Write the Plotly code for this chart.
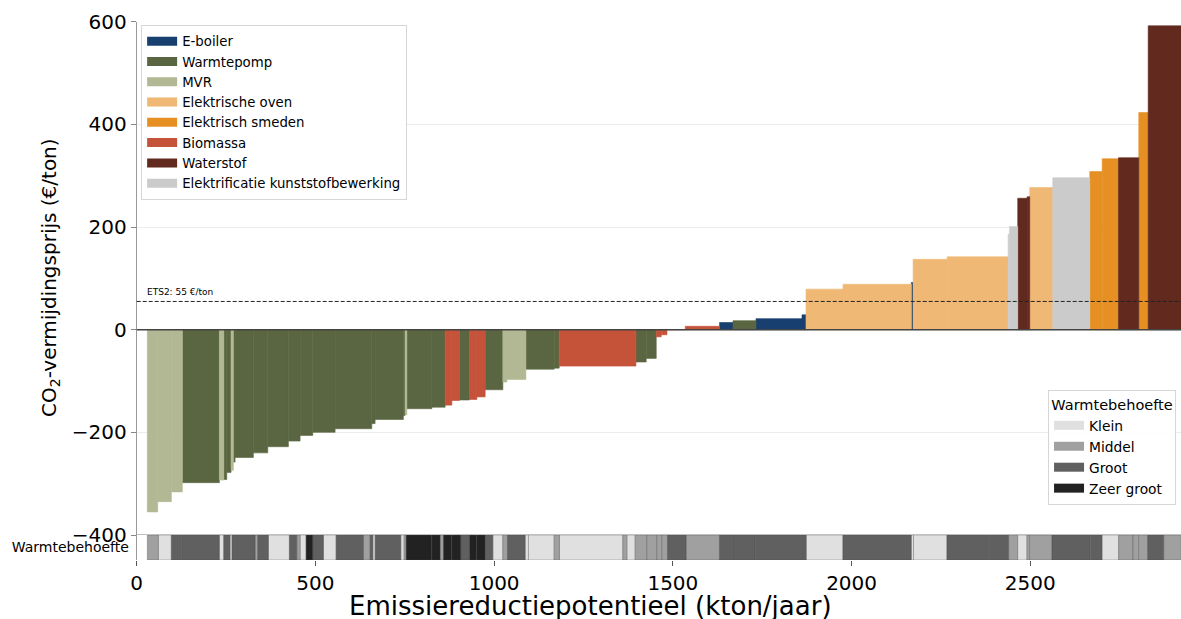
import numpy as np
import plotly.graph_objects as go

# ---------------- data ----------------
x_start = 29.7  # kton/jaar where the first measure starts

bar_tech = ["MVR", "MVR", "MVR", "WP", "MVR", "WP", "WP", "MVR", "WP", "WP",
            "WP", "WP", "WP", "WP", "WP", "WP", "WP", "WP", "WP", "MVR",
            "WP", "WP", "BIO", "BIO", "WP", "BIO", "BIO", "WP", "MVR", "MVR",
            "WP", "WP", "BIO", "WP", "WP", "BIO", "BIO", "BIO", "BIO", "EB",
            "WP", "EB", "EB", "OVEN", "OVEN", "EB", "OVEN", "OVEN", "KS", "KS",
            "H2", "H2", "OVEN", "KS", "SMED", "SMED", "H2", "SMED", "H2"]
bar_width = [29.1, 38.1, 30.8, 103.6, 12.3, 8.4, 12.0, 6.4, 4.8, 51.2,
             40.3, 57.7, 32.7, 35.5, 62.4, 102.7, 9.2, 79.2, 4.8, 4.8,
             70.0, 37.2, 18.8, 21.3, 28.0, 20.7, 23.2, 49.5, 11.2, 53.2,
             79.2, 14.0, 214.7, 28.8, 28.0, 14.0, 16.0, 51.2, 96.0, 37.5,
             64.4, 128.7, 11.2, 103.6, 191.2, 4.8, 95.2, 170.7, 3.6, 23.2,
             26.3, 7.3, 64.4, 103.6, 34.7, 45.6, 56.8, 26.3, 91.8]
bar_cost = [-355, -335, -316, -298, -293, -292, -278, -274, -258, -249,
            -240, -228, -217, -206, -200, -193, -183, -175, -167, -166,
            -154, -151, -147, -138, -137, -136, -131, -117, -102, -97,
            -77, -75, -71, -63, -56, -14, -10, 0, 6.5, 14,
            17.5, 21.5, 29, 79, 88.5, 92, 137, 142, 186, 201,
            256, 259, 277, 296, 308, 333, 335, 423, 592]

strip_class = ["M", "K", "G", "G", "K", "G", "K", "G", "M", "G",
               "K", "G", "M", "K", "Z", "G", "K", "G", "M", "G",
               "K", "G", "K", "M", "Z", "Z", "M", "Z", "Z", "G",
               "Z", "Z", "G", "K", "M", "G", "K", "K", "M", "K",
               "M", "K", "M", "M", "M", "M", "G", "M", "G", "G",
               "G", "G", "K", "G", "K", "K", "G", "G", "M", "K",
               "M", "M", "G", "G", "K", "M", "M", "M", "G", "M"]
strip_width = [30.8, 36.4, 29.1, 105.2, 12.3, 17.6, 5.6, 64.4, 7.6, 29.7,
               58.8, 20.7, 9.2, 16.8, 18.8, 29.7, 35.5, 76.4, 18.8, 7.6,
               6.4, 71.9, 9.2, 5.6, 71.9, 23.2, 9.2, 23.5, 25.2, 24.1,
               20.7, 23.2, 21.6, 28.0, 12.9, 49.5, 9.2, 71.9, 14.8, 177.4,
               11.2, 23.2, 32.7, 28.0, 14.0, 15.7, 52.3, 93.2, 37.5, 62.4,
               130.7, 12.0, 102.7, 191.2, 6.4, 93.5, 119.2, 53.2, 25.2, 26.3,
               7.3, 62.7, 107.2, 32.7, 46.5, 40.3, 15.7, 25.2, 44.8, 48.1]

ets_price = 55
y_ticks = [-400, -200, 0, 200, 400, 600]
x_ticks = [0, 500, 1000, 1500, 2000, 2500]

tech_order = ["EB", "WP", "MVR", "OVEN", "SMED", "BIO", "H2", "KS"]
tech_names = {"EB": "E-boiler", "WP": "Warmtepomp", "MVR": "MVR",
              "OVEN": "Elektrische oven", "SMED": "Elektrisch smeden",
              "BIO": "Biomassa", "H2": "Waterstof",
              "KS": "Elektrificatie kunststofbewerking"}
class_order = ["K", "M", "G", "Z"]
class_names = {"K": "Klein", "M": "Middel", "G": "Groot", "Z": "Zeer groot"}

# ---------------- styles ----------------
tech_colors = {"EB": "#173f6f", "WP": "#5a6641", "MVR": "#b2b893",
               "OVEN": "#f0b875", "SMED": "#e69024", "BIO": "#c4533a",
               "H2": "#62291e", "KS": "#cbcbcb"}
class_colors = {"K": "#e0e0e0", "M": "#a0a0a0", "G": "#606060", "Z": "#222222"}
FONT = "DejaVu Sans"

# ---------------- geometry from data ----------------
bw = np.array(bar_width)
b_left = x_start + np.concatenate([[0], np.cumsum(bw)[:-1]])
b_center = b_left + bw / 2
sw = np.array(strip_width)
s_left = x_start + np.concatenate([[0], np.cumsum(sw)[:-1]])
s_center = s_left + sw / 2
x_max = x_start + bw.sum()

fig = go.Figure()
for t in tech_order:
    idx = [i for i, v in enumerate(bar_tech) if v == t]
    fig.add_trace(go.Bar(
        x=b_center[idx], y=[bar_cost[i] for i in idx], width=bw[idx],
        marker=dict(color=tech_colors[t], line=dict(width=0.6, color=tech_colors[t])),
        name=tech_names[t], showlegend=False, xaxis="x", yaxis="y",
        opacity=1, hoverinfo="skip"))
    # legend entry (wide rectangle symbol)
    fig.add_trace(go.Scatter(
        x=[None], y=[None], mode="lines", name=tech_names[t],
        line=dict(color=tech_colors[t], width=9), legend="legend",
        xaxis="x", yaxis="y", hoverinfo="skip"))

for c in class_order:
    idx = [i for i, v in enumerate(strip_class) if v == c]
    fig.add_trace(go.Bar(
        x=s_center[idx], y=[1] * len(idx), width=sw[idx],
        marker=dict(color=class_colors[c], line=dict(width=0.6, color="rgba(70,70,70,0.55)")),
        name=class_names[c], showlegend=False, xaxis="x", yaxis="y2",
        opacity=1, hoverinfo="skip"))
    fig.add_trace(go.Scatter(
        x=[None], y=[None], mode="lines", name=class_names[c],
        line=dict(color=class_colors[c], width=9), legend="legend2",
        xaxis="x", yaxis="y2", hoverinfo="skip"))

W, H = 1181, 619
x0p = 136.7 / W
fig.update_layout(
    width=W, height=H,
    margin=dict(l=0, r=0, t=0, b=0, pad=0, autoexpand=False),
    plot_bgcolor="white", paper_bgcolor="white", barmode="overlay",
    font=dict(family=FONT, color="black"),
    xaxis=dict(domain=[x0p, 1], anchor="y2", range=[0, x_max],
               tickvals=x_ticks, ticks="outside", ticklen=5, tickcolor="#555",
               tickfont=dict(size=20), showgrid=False, zeroline=False,
               showline=False, automargin=False),
    yaxis=dict(domain=[(H - 535) / H, (H - 21.7) / H], anchor="x",
               range=[-400, 600], tickvals=y_ticks, ticks="outside", ticklen=5,
               tickcolor="#888", tickfont=dict(size=20), showgrid=True,
               gridcolor="#ececec", zeroline=False, showline=True,
               linecolor="#999", linewidth=1, automargin=False),
    yaxis2=dict(domain=[(H - 560) / H, (H - 535) / H], anchor="x",
                range=[0, 1], tickvals=[0.5], ticktext=["Warmtebehoefte"],
                ticks="", tickfont=dict(size=14), ticklabelstandoff=4,
                showgrid=False, zeroline=False, showline=True,
                linecolor="#999", linewidth=1, automargin=False),
    legend=dict(x=0.1195, y=1 - 25 / H, xanchor="left", yanchor="top",
                bgcolor="rgba(255,255,255,0.9)", bordercolor="#d6d6d6",
                borderwidth=1, font=dict(size=13.3), tracegroupgap=0,
                itemclick=False, itemdoubleclick=False),
    legend2=dict(x=0.9958, y=1 - 505 / H, xanchor="right", yanchor="bottom",
                 title=dict(text="Warmtebehoefte", font=dict(size=14.5),
                            side="top center"),
                 bgcolor="rgba(255,255,255,0.9)", bordercolor="#d6d6d6",
                 borderwidth=1, font=dict(size=13.8), tracegroupgap=0),
    showlegend=True,
)

fig.add_shape(type="line", xref="x domain", yref="y", x0=0, x1=1,
              y0=-400, y1=-400, line=dict(color="#aaaaaa", width=1.5))
fig.add_shape(type="line", xref="x domain", yref="y", x0=0, x1=1,
              y0=0, y1=0, line=dict(color="#444444", width=1.5))
fig.add_shape(type="line", xref="x domain", yref="y", x0=0, x1=1,
              y0=ets_price, y1=ets_price,
              line=dict(color="#222222", width=1, dash="4px,2px"))
fig.add_annotation(xref="paper", yref="y", x=145 / W, y=ets_price,
                   xanchor="left", yanchor="bottom", yshift=2,
                   text=f"ETS2: {ets_price} €/ton", showarrow=False,
                   font=dict(size=9, color="black"))
fig.add_annotation(xref="paper", yref="paper", x=590 / W, y=1 - 605.5 / H,
                   xanchor="center", yanchor="middle",
                   text="Emissiereductiepotentieel (kton/jaar)",
                   showarrow=False, font=dict(size=26))
fig.add_annotation(xref="paper", yref="paper", x=50 / W, y=1 - 278 / H,
                   xanchor="center", yanchor="middle", textangle=-90,
                   text="CO<sub>2</sub>-vermijdingsprijs (€/ton)",
                   showarrow=False, font=dict(size=20))

fig.write_html("out.html", config={"displayModeBar": False},
               post_script="document.body.style.margin='0px';document.body.style.overflow='hidden';")
